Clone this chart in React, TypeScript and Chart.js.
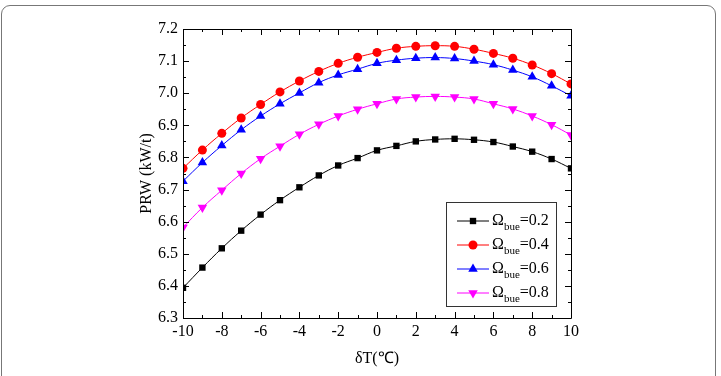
import React, { useEffect, useRef } from "react";
import { Chart, registerables } from "chart.js";

Chart.register(...registerables);

const deltaT = [-10, -9, -8, -7, -6, -5, -4, -3, -2, -1, 0, 1, 2, 3, 4, 5, 6, 7, 8, 9, 10];
const omega02 = [6.394, 6.457, 6.517, 6.572, 6.622, 6.667, 6.707, 6.744, 6.775, 6.798, 6.822, 6.836, 6.850, 6.856, 6.858, 6.855, 6.848, 6.834, 6.818, 6.795, 6.766];
const omega04 = [6.766, 6.823, 6.875, 6.923, 6.965, 7.004, 7.038, 7.068, 7.093, 7.112, 7.127, 7.140, 7.146, 7.148, 7.146, 7.137, 7.124, 7.109, 7.088, 7.061, 7.029];
const omega06 = [6.726, 6.784, 6.837, 6.886, 6.929, 6.967, 7.001, 7.033, 7.057, 7.075, 7.093, 7.103, 7.109, 7.111, 7.108, 7.100, 7.089, 7.072, 7.051, 7.023, 6.992];
const omega08 = [6.582, 6.644, 6.698, 6.750, 6.796, 6.835, 6.872, 6.903, 6.929, 6.950, 6.967, 6.982, 6.988, 6.990, 6.988, 6.982, 6.967, 6.951, 6.929, 6.902, 6.870];
const seriesValues = ["0.2", "0.4", "0.6", "0.8"];
const seriesColors = ["#000000", "#ff0000", "#0000ff", "#ff00ff"];
const seriesStyles = ["rect", "circle", "triangle", "triangle"];
const seriesRotations = [0, 0, 0, 180];
const seriesRadius = [4.5, 4.5, 5.5, 5.5];

const SERIF = "'Liberation Serif', 'Times New Roman', serif";

const innerTicks = {
  id: "innerTicks",
  afterDatasetsDraw(chart: any) {
    const { ctx, chartArea: a, scales } = chart;
    const xs = scales.x;
    const ys = scales.y;
    ctx.save();
    ctx.strokeStyle = "#000";
    ctx.lineWidth = 1;
    ctx.beginPath();
    ctx.rect(Math.round(a.left) + 0.5, Math.round(a.top) + 0.5, Math.round(a.right - a.left), Math.round(a.bottom - a.top));
    ctx.stroke();
    ctx.beginPath();
    for (let v = -10; v <= 10; v += 1) {
      const major = v % 2 === 0;
      const len = major ? 6 : 3;
      const px = Math.round(xs.getPixelForValue(v)) + 0.5;
      ctx.moveTo(px, a.bottom);
      ctx.lineTo(px, a.bottom - len);
      ctx.moveTo(px, a.top);
      ctx.lineTo(px, a.top + len);
    }
    for (let i = 0; i <= 18; i++) {
      const v = 6.3 + i * 0.05;
      const major = i % 2 === 0;
      const len = major ? 6 : 3;
      const py = Math.round(ys.getPixelForValue(v)) + 0.5;
      ctx.moveTo(a.left, py);
      ctx.lineTo(a.left + len, py);
      ctx.moveTo(a.right, py);
      ctx.lineTo(a.right - len, py);
    }
    ctx.stroke();
    ctx.restore();
  },
};

const customLegend = {
  id: "customLegend",
  afterDraw(chart: any) {
    const { ctx, chartArea: a } = chart;
    const bx = a.left + 263;
    const by = a.top + 173;
    const bw = 110;
    const bh = 104;
    ctx.save();
    ctx.fillStyle = "#fff";
    ctx.fillRect(bx, by, bw, bh);
    ctx.strokeStyle = "#333";
    ctx.lineWidth = 1;
    ctx.strokeRect(Math.round(bx) + 0.5, Math.round(by) + 0.5, bw, bh);
    chart.data.datasets.forEach((ds: any, i: number) => {
      const cy = by + 19 + i * 24;
      const x0 = bx + 11;
      const x1 = bx + 43;
      ctx.strokeStyle = ds.borderColor;
      ctx.lineWidth = 1;
      ctx.beginPath();
      ctx.moveTo(x0, cy);
      ctx.lineTo(x1, cy);
      ctx.stroke();
      ctx.fillStyle = ds.backgroundColor;
      ctx.strokeStyle = ds.borderColor;
      (Chart as any).helpers?.drawPoint;
      drawMarker(ctx, ds.pointStyle, (x0 + x1) / 2, cy, ds.pointRadius, ds.pointRotation);
      ctx.fillStyle = "#000";
      ctx.textBaseline = "middle";
      ctx.textAlign = "left";
      ctx.font = `16px ${SERIF}`;
      let tx = x1 + 3;
      ctx.fillText("\u03A9", tx, cy);
      tx += ctx.measureText("\u03A9").width;
      ctx.font = `11px ${SERIF}`;
      ctx.fillText("bue", tx, cy + 6);
      tx += ctx.measureText("bue").width;
      ctx.font = `16px ${SERIF}`;
      ctx.fillText("=" + seriesValues[i], tx, cy);
    });
    ctx.restore();
  },
};

function drawMarker(ctx: CanvasRenderingContext2D, style: string, x: number, y: number, r: number, rot: number) {
  ctx.save();
  ctx.translate(x, y);
  ctx.rotate((rot * Math.PI) / 180);
  ctx.beginPath();
  if (style === "rect") {
    const s = r / Math.SQRT2 * 1.0;
    ctx.rect(-s, -s, 2 * s, 2 * s);
  } else if (style === "circle") {
    ctx.arc(0, 0, r, 0, Math.PI * 2);
  } else {
    const s = r;
    ctx.moveTo(0, -s);
    ctx.lineTo(s * Math.cos(Math.PI / 6), s * 0.5);
    ctx.lineTo(-s * Math.cos(Math.PI / 6), s * 0.5);
    ctx.closePath();
  }
  ctx.fill();
  ctx.restore();
}

export default function App() {
  const ref = useRef<HTMLCanvasElement | null>(null);
  useEffect(() => {
    if (!ref.current) return;
    const all = [omega02, omega04, omega06, omega08];
    const chart = new Chart(ref.current, {
      type: "line",
      data: {
        datasets: all.map((vals, i) => ({
          label: "\u03A9bue=" + seriesValues[i],
          data: deltaT.map((x, j) => ({ x, y: vals[j] })),
          borderColor: seriesColors[i],
          backgroundColor: seriesColors[i],
          borderWidth: 1,
          pointStyle: seriesStyles[i] as any,
          pointRotation: seriesRotations[i],
          pointRadius: seriesRadius[i],
          pointBorderWidth: 0,
          tension: 0.4,
        })),
      },
      options: {
        animation: false,
        responsive: false,
        devicePixelRatio: 1,
        layout: { padding: { left: 0, top: 29, right: 150, bottom: 0 } },
        plugins: { legend: { display: false }, tooltip: { enabled: false } },
        scales: {
          x: {
            type: "linear",
            min: -10,
            max: 10,
            afterFit: (s: any) => { s.height = 58; },
            ticks: { stepSize: 2, color: "#000", font: { family: SERIF, size: 16 }, padding: 4, maxRotation: 0 },
            grid: { display: false, drawTicks: false },
            border: { display: false },
            title: { display: true, text: "\u03B4T(\u2103)", color: "#000", font: { family: SERIF, size: 16 }, padding: { top: 0, bottom: 8 } },
          },
          y: {
            type: "linear",
            min: 6.3,
            max: 7.2,
            afterFit: (s: any) => { s.width = 183; },
            ticks: { stepSize: 0.1, color: "#000", font: { family: SERIF, size: 16 }, padding: 5, callback: (v: any) => Number(v).toFixed(1) },
            grid: { display: false, drawTicks: false },
            border: { display: false },
            title: { display: true, text: "PRW (kW/t)", color: "#000", font: { family: SERIF, size: 16 }, padding: { top: 137, bottom: 0 } },
          },
        },
      },
      plugins: [innerTicks, customLegend],
    });
    return () => chart.destroy();
  }, []);
  return (
    <div style={{ position: "fixed", left: 0, top: 0, width: 721, height: 376, background: "#fff", overflow: "hidden" }}>
      <div style={{ position: "absolute", left: 1, top: 5, width: 715, height: 420, border: "1.5px solid #777", borderRadius: 9, boxSizing: "border-box" }} />
      <canvas ref={ref} width={721} height={376} style={{ position: "absolute", left: 0, top: 0, width: 721, height: 376 }} />
    </div>
  );
}
